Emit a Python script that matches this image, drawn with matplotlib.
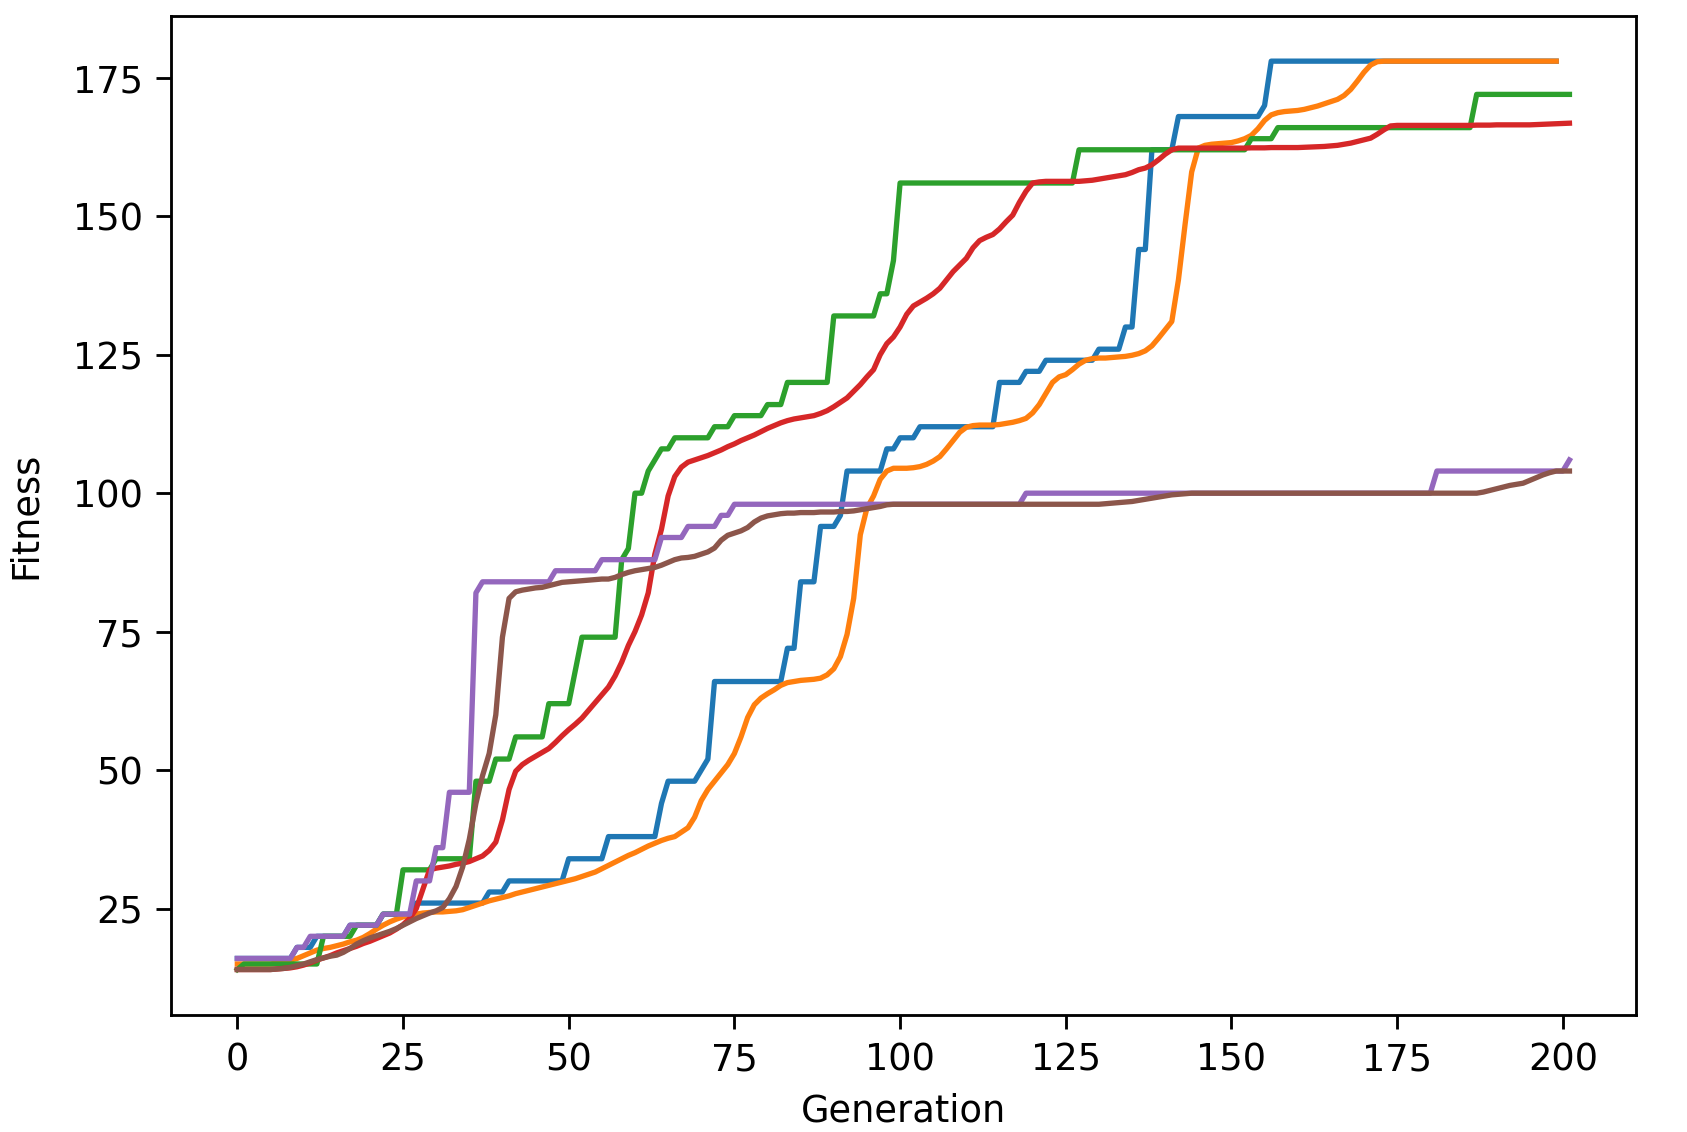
import numpy as np
import matplotlib
matplotlib.use("Agg")
import matplotlib.pyplot as plt

# ---- data ----
# step-like series given as (value, run length) pairs
blue_runs = [(16, 9), (18, 3), (20, 5), (22, 5), (24, 5), (26, 11), (28, 3), (30, 9),
             (34, 6), (38, 8), (44, 1), (48, 5), (50, 1), (52, 1), (66, 11), (72, 2),
             (84, 3), (94, 3), (96, 1), (104, 6), (108, 2), (110, 3), (112, 12),
             (120, 4), (122, 3), (124, 8), (126, 4), (130, 2), (144, 2), (162, 4),
             (168, 13), (170, 1), (178, 44)]

green_runs = [(14, 1), (15, 12), (20, 5), (22, 4), (24, 3), (32, 5), (34, 6), (48, 3),
              (52, 3), (56, 5), (62, 4), (68, 1), (74, 6), (88, 1), (90, 1), (100, 2),
              (104, 1), (106, 1), (108, 2), (110, 6), (112, 3), (114, 5), (116, 3),
              (120, 7), (132, 7), (136, 2), (142, 1), (156, 27), (162, 26), (164, 4),
              (166, 30), (172, 15)]

purple_runs = [(16, 9), (18, 2), (20, 6), (22, 5), (24, 5), (30, 3), (36, 2), (46, 4),
               (82, 1), (84, 11), (86, 7), (88, 9), (92, 4), (94, 5), (96, 2), (98, 44),
               (100, 62), (104, 20), (106, 1)]

orange = [15, 15, 15, 15, 15, 15, 15.2, 15.4, 15.7, 16,
          16.5, 17, 17.5, 17.8, 18, 18.3, 18.6, 19, 19.3, 19.8,
          20.5, 21.3, 22, 22.6, 23.1, 23.5, 23.8, 24, 24.2, 24.3,
          24.4, 24.4, 24.5, 24.6, 24.8, 25.2, 25.6, 26, 26.4, 26.7,
          27, 27.3, 27.7, 28, 28.3, 28.6, 28.9, 29.2, 29.5, 29.8,
          30.1, 30.4, 30.8, 31.2, 31.6, 32.2, 32.8, 33.4, 34, 34.6,
          35.1, 35.7, 36.3, 36.8, 37.3, 37.7, 38, 38.8, 39.6, 41.5,
          44.5, 46.5, 48, 49.5, 51, 53, 56, 59.5, 61.8, 63,
          63.8, 64.5, 65.3, 65.8, 66, 66.2, 66.3, 66.4, 66.6, 67.2,
          68.3, 70.5, 74.5, 81, 92.5, 97.3, 99.5, 102.5, 104, 104.5,
          104.5, 104.5, 104.6, 104.8, 105.2, 105.8, 106.6, 108, 109.5, 111,
          111.9, 112.2, 112.3, 112.3, 112.3, 112.4, 112.6, 112.8, 113.1, 113.5,
          114.5, 116, 118, 120, 121, 121.4, 122.3, 123.3, 124, 124.3,
          124.4, 124.4, 124.5, 124.6, 124.7, 124.9, 125.2, 125.7, 126.6, 128,
          129.5, 131, 138.5, 148.5, 158, 162.3, 162.8, 163, 163.1, 163.2,
          163.3, 163.6, 164, 164.6, 165.8, 167.3, 168.3, 168.7, 168.9, 169,
          169.1, 169.3, 169.6, 169.9, 170.3, 170.7, 171.1, 171.8, 172.9, 174.4,
          176, 177.3, 177.9] + [178] * 27

red = [14, 14, 14, 14, 14, 14, 14.1, 14.2, 14.3, 14.5,
       14.8, 15.2, 15.7, 16.1, 16.5, 17, 17.4, 17.8, 18.2, 18.7,
       19.1, 19.6, 20.1, 20.6, 21.3, 22.1, 23.2, 25, 28.5, 32,
       32.3, 32.5, 32.7, 33, 33.2, 33.5, 34, 34.5, 35.5, 37,
       41, 46.5, 49.8, 51, 51.8, 52.5, 53.2, 53.9, 55, 56.2,
       57.3, 58.3, 59.4, 60.8, 62.2, 63.6, 65, 67, 69.5, 72.5,
       75, 78, 82, 89, 93.5, 99.5, 103, 104.7, 105.6, 106,
       106.4, 106.8, 107.3, 107.8, 108.4, 108.9, 109.5, 110, 110.5, 111.1,
       111.7, 112.2, 112.7, 113.1, 113.4, 113.6, 113.8, 114, 114.4, 114.9,
       115.6, 116.4, 117.2, 118.4, 119.6, 121, 122.3, 125, 127, 128.2,
       130, 132.3, 133.8, 134.5, 135.2, 136, 137, 138.5, 140, 141.2,
       142.4, 144.3, 145.6, 146.2, 146.7, 147.7, 149, 150.2, 152.5, 154.5,
       156, 156.2, 156.3, 156.3, 156.3, 156.3, 156.3, 156.3, 156.4, 156.5,
       156.7, 156.9, 157.1, 157.3, 157.5, 157.9, 158.4, 158.7, 159.3, 160.2,
       161.2, 162, 162.3, 162.3, 162.3, 162.3, 162.3, 162.3, 162.3, 162.3,
       162.3, 162.3, 162.3, 162.35, 162.35, 162.35, 162.4, 162.4, 162.4, 162.4,
       162.4, 162.45, 162.5, 162.55, 162.6, 162.7, 162.8, 163, 163.2, 163.5,
       163.8, 164.1, 164.8, 165.6, 166.3, 166.4, 166.4, 166.4, 166.4, 166.4,
       166.4, 166.4, 166.4, 166.4, 166.4, 166.4, 166.4, 166.45, 166.45, 166.45,
       166.5, 166.5, 166.5, 166.5, 166.5, 166.5, 166.55, 166.6, 166.65, 166.7,
       166.75, 166.8]

brown = ([14, 14, 14, 14, 14, 14, 14.1, 14.2, 14.4, 14.7,
          15, 15.4, 15.8, 16.1, 16.4, 16.6, 17.1, 17.8, 18.6, 19.2,
          19.7, 20.1, 20.5, 20.9, 21.4, 22, 22.6, 23.2, 23.7, 24.2,
          24.6, 25.2, 26.8, 29, 32.5, 37.5, 44, 49, 53, 60,
          74, 81, 82.2, 82.5, 82.7, 82.9, 83, 83.3, 83.6, 83.9,
          84, 84.1, 84.2, 84.3, 84.4, 84.5, 84.5, 84.8, 85.3, 85.7,
          86, 86.2, 86.4, 86.6, 87, 87.5, 88, 88.3, 88.4, 88.6,
          89, 89.4, 90.1, 91.5, 92.4, 92.8, 93.2, 93.8, 94.8, 95.5,
          95.9, 96.1, 96.3, 96.4, 96.4, 96.5, 96.5, 96.5, 96.6, 96.6,
          96.6, 96.7, 96.7, 96.8, 97, 97.2, 97.4, 97.6, 97.9, 98]
         + [98] * 31
         + [98.1, 98.2, 98.3, 98.4, 98.5, 98.7, 98.9, 99.1, 99.3, 99.5, 99.7, 99.8, 99.9]
         + [100] * 44
         + [100.2, 100.5, 100.8, 101.1, 101.4, 101.6, 101.8, 102.3, 102.8, 103.3,
            103.7, 104, 104, 104])


def expand(runs):
    vals, counts = zip(*runs)
    return np.repeat(vals, counts)


blue = expand(blue_runs)
green = expand(green_runs)
purple = expand(purple_runs)

series = [blue, orange, green, red, purple, brown]

# ---- style ----
S = 2.55
plt.rcParams.update({
    "font.family": ["DejaVu Sans"],
    "font.size": 26.5,
    "lines.linewidth": 1.5 * S,
    "axes.linewidth": 0.8 * S,
    "xtick.major.size": 3.5 * S * 1.15,
    "ytick.major.size": 3.5 * S * 1.25,
    "xtick.major.width": 0.8 * S,
    "ytick.major.width": 0.8 * S,
    "xtick.major.pad": 3.5 * S,
    "ytick.major.pad": 3.5 * S,
    "axes.labelpad": 4 * S,
})

fig = plt.figure(figsize=(16.87, 11.32), dpi=100)
ax = fig.add_axes([0.1012, 0.1034, 0.9698 - 0.1012, 0.9861 - 0.1034])

for s in series:
    s = np.asarray(s, dtype=float)
    ax.plot(np.arange(len(s)), s)

ax.set_xlabel("Generation", labelpad=4 * S)
ax.set_ylabel("Fitness", labelpad=21)

fig.savefig("out.png", dpi=100)
